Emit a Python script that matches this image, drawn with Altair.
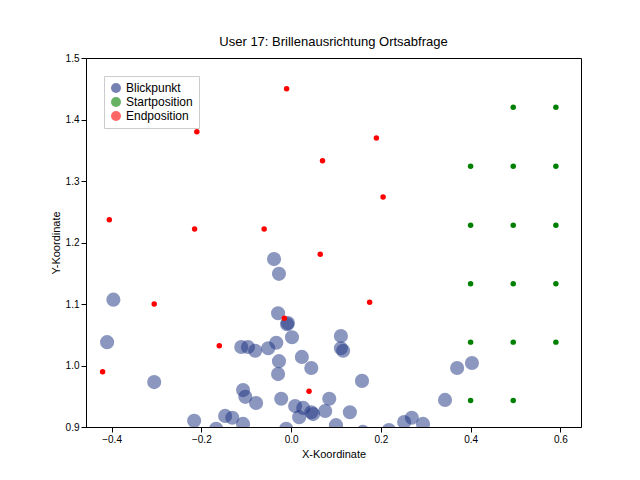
import altair as alt
import pandas as pd

blick_x = [-0.038,-0.027,-0.029,-0.007,0.002,-0.111,-0.096,-0.080,-0.051,-0.033,-0.027,-0.029,0.024,0.045,0.111,0.111,0.116,0.158,-0.305,-0.107,-0.102,-0.078,-0.022,0.009,0.027,0.045,0.049,0.076,0.085,0.131,-0.216,-0.147,-0.131,-0.107,0.018,0.252,0.269,0.294,0.343,-0.011,-0.167,0.160,0.218,0.100,-0.396,-0.410,0.370,0.403,-0.009]
blick_y = [1.173,1.149,1.085,1.069,1.046,1.030,1.030,1.024,1.028,1.037,1.007,0.986,1.014,0.996,1.048,1.028,1.024,0.975,0.973,0.960,0.949,0.939,0.946,0.934,0.931,0.924,0.921,0.926,0.946,0.924,0.910,0.918,0.915,0.905,0.916,0.908,0.915,0.905,0.944,0.897,0.897,0.892,0.895,0.903,1.107,1.038,0.996,1.004,1.067]
start_x = [0.4,0.4,0.4,0.4,0.4,0.495,0.495,0.495,0.495,0.495,0.495,0.59,0.59,0.59,0.59,0.59]
start_y = [1.324,1.228,1.133,1.038,0.943,1.42,1.324,1.228,1.133,1.038,0.943,1.42,1.324,1.228,1.133,1.038]
end_x = [-0.21,-0.01,0.19,0.07,0.205,-0.405,-0.215,-0.06,0.065,-0.305,0.175,-0.015,-0.16,-0.42,0.04]
end_y = [1.38,1.45,1.37,1.333,1.274,1.237,1.222,1.222,1.181,1.1,1.103,1.077,1.032,0.99,0.958]

rows = ([{"x": a, "y": b, "s": "Blickpunkt", "sz": 200, "op": 0.5} for a, b in zip(blick_x, blick_y)] +
        [{"x": a, "y": b, "s": "Startposition", "sz": 30, "op": 1.0} for a, b in zip(start_x, start_y)] +
        [{"x": a, "y": b, "s": "Endposition", "sz": 30, "op": 1.0} for a, b in zip(end_x, end_y)])
df = pd.DataFrame(rows)
dom = ["Blickpunkt", "Startposition", "Endposition"]

chart = alt.Chart(df).mark_circle(clip=True).encode(
    x=alt.X("x:Q", title="X-Koordinate", scale=alt.Scale(domain=[-0.457, 0.646], nice=False),
            axis=alt.Axis(values=[-0.4, -0.2, 0, 0.2, 0.4, 0.6], format=".1f", grid=False)),
    y=alt.Y("y:Q", title="Y-Koordinate", scale=alt.Scale(domain=[0.9, 1.5], nice=False, zero=False),
            axis=alt.Axis(values=[0.9, 1.0, 1.1, 1.2, 1.3, 1.4, 1.5], format=".1f", grid=False)),
    color=alt.Color("s:N", scale=alt.Scale(domain=dom, range=["#1a2f80", "green", "red"]),
                    legend=alt.Legend(title=None, orient="top-left", strokeColor="#ccc",
                                      fillColor="white", padding=6, labelFontSize=12,
                                      symbolOpacity=0.6)),
    size=alt.Size("sz:Q", scale=None),
    opacity=alt.Opacity("op:Q", scale=None),
).properties(
    width=495, height=369,
    padding={"left": 42, "top": 28, "right": 5, "bottom": 5},
    title=alt.TitleParams("User 17: Brillenausrichtung Ortsabfrage", fontSize=13, fontWeight="normal"),
).configure_view(stroke="black").configure_axis(domainColor="black", tickColor="black",
    labelColor="black", titleColor="black", titleFontWeight="normal", labelFontSize=10, titleFontSize=11)

chart.save("out.html", embed_options={"renderer": "svg", "actions": False})
